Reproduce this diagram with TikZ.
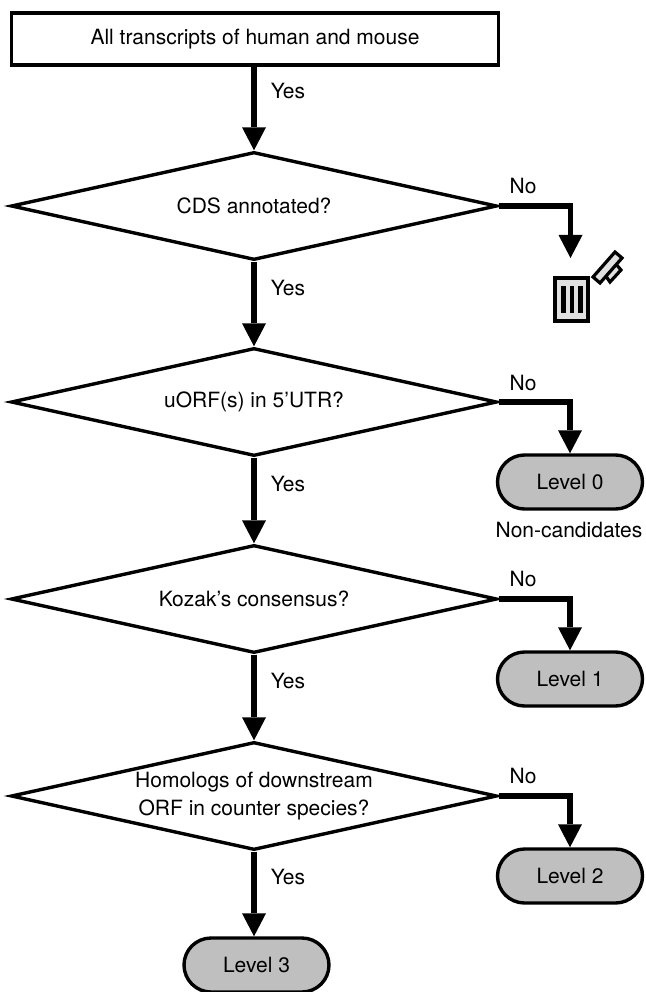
\documentclass[tikz,border=0pt]{standalone}
\usepackage{fontspec}
\setmainfont{TeX Gyre Heros}
\usetikzlibrary{shapes.geometric,shapes.misc,arrows.meta}
\definecolor{lvl}{gray}{0.75}
\tikzset{
  x=1pt,y=-1pt,
  box/.style={draw,line width=3.4pt,minimum width=487pt,minimum height=52pt,inner sep=0pt,font=\fontsize{21}{24}\selectfont},
  dec/.style={draw,diamond,aspect=4.5,line width=3.4pt,inner sep=0pt,minimum width=486pt,minimum height=108pt,align=center,font=\fontsize{21}{28}\selectfont},
  lvlbox/.style={draw,rounded rectangle,line width=3.4pt,fill=lvl,minimum width=145pt,minimum height=54pt,inner sep=0pt,font=\fontsize{21}{24}\selectfont},
  flow/.style={line width=5.4pt,-{Triangle[width=24pt,length=23pt,line width=0pt]}},
  lab/.style={font=\fontsize{21}{24}\selectfont,inner sep=0pt},
}
\begin{document}
\begin{tikzpicture}
\useasboundingbox (0,0) rectangle (645,992);
\clip (0,0) rectangle (645,992);
\node[box] (start) at (255,39) {All transcripts of human and mouse};
\node[dec] (d1) at (254,206) {CDS annotated?};
\node[dec] (d2) at (254,402) {uORF(s) in 5’UTR?};
\node[dec] (d3) at (254,599) {Kozak’s consensus?};
\node[dec] (d4) at (254,796) {Homologs of downstream\\ORF in counter species?};
\node[lvlbox] (l0) at (570,482) {Level 0};
\node[lvlbox] (l1) at (570,679) {Level 1};
\node[lvlbox] (l2) at (570,876) {Level 2};
\node[lvlbox] (l3) at (256.5,965) {Level 3};
\coordinate (trashtop) at (570.5,258);
\node[lab] (y1) at (288,91) {Yes};
\node[lab] (y2) at (288,288) {Yes};
\node[lab] (y3) at (288,484) {Yes};
\node[lab] (y4) at (288,681) {Yes};
\node[lab] (y5) at (288,877) {Yes};
\node[lab] (n1) at (523,186) {No};
\node[lab] (n2) at (523,383) {No};
\node[lab] (n3) at (523,579) {No};
\node[lab] (n4) at (523,776) {No};
\node[lab] (nc) at (569,530) {Non-candidates};
\draw[flow] (start.south -| d1.north) -- (d1.north);
\draw[flow] (d1.south) -- (d2.north);
\draw[flow] (d2.south) -- (d3.north);
\draw[flow] (d3.south) -- (d4.north);
\draw[flow] (d4.south) -- (l3.north -| d4.south);
\draw[flow] (d1.east) -| (trashtop);
\draw[flow] (d2.east) -| (l0.north);
\draw[flow] (d3.east) -| (l1.north);
\draw[flow] (d4.east) -| (l2.north);
% waste bin
\draw[line width=4pt,fill=black!12] (555,278) rectangle (588,321);
\fill (561,286) rectangle (565.5,313);
\fill (569.5,286) rectangle (574,313);
\fill (578,286) rectangle (582.5,313);
\draw[line width=3.2pt,fill=black!12] (603,272) -- (610,282) -- (621,270) -- (615,263) -- cycle;
\draw[line width=3.2pt,fill=black!12] (593,277) -- (600,283) -- (622,258) -- (615,252) -- cycle;
\end{tikzpicture}
\end{document}
